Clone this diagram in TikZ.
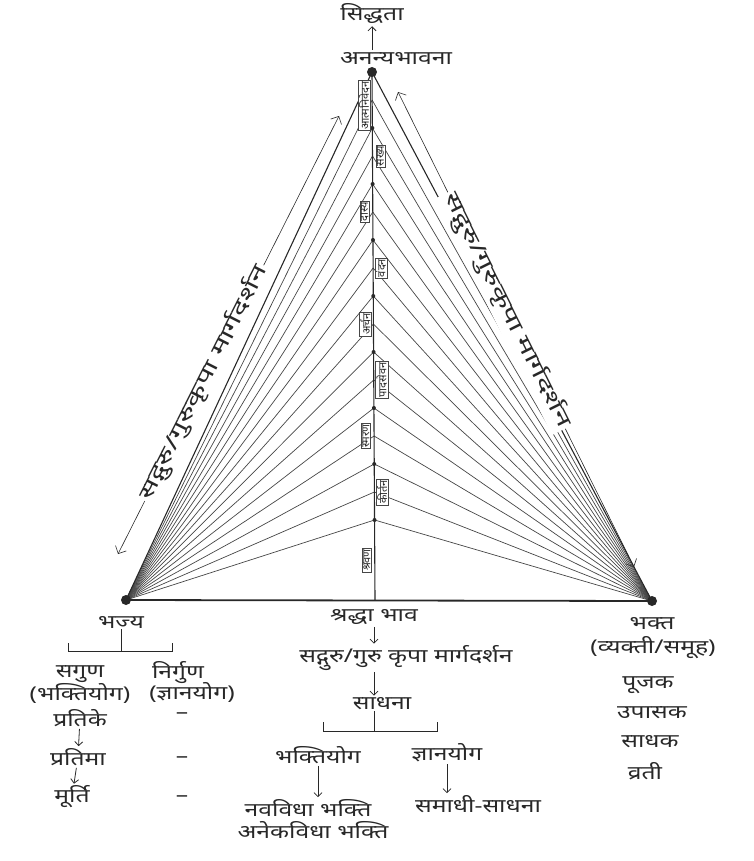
\documentclass[tikz,border=0pt]{standalone}
\usepackage{fontspec}
\newfontfamily\deva[Script=Devanagari]{Noto Sans}
\newfontfamily\devawide[Script=Devanagari, FakeStretch=1.3]{Noto Sans}
\newfontfamily\devaguide[Script=Devanagari, FakeStretch=1.55]{Noto Sans}
\usepackage{tikz}
\usetikzlibrary{arrows.meta, positioning, calc}
\definecolor{inkgray}{RGB}{40,40,40}
\definecolor{fangray}{RGB}{70,70,70}
\tikzset{
  mtext/.style={font=\devawide\fontsize{19}{21}\selectfont, text=inkgray, inner sep=1pt},
  stagetext/.style={font=\deva\fontsize{11}{12}\selectfont, text=inkgray, rotate=90,
    fill=white, draw=fangray, line width=0.4pt, inner sep=1pt},
  guidetext/.style={font=\devaguide\fontsize{20}{22}\selectfont, text=inkgray, sloped,
    fill=white, inner sep=2pt},
  fanline/.style={fangray, line width=0.7pt},
  sideline/.style={inkgray, line width=1.1pt},
  baseedge/.style={inkgray, line width=1.8pt},
  guidearrow/.style={{Straight Barb[length=6pt]}-{Straight Barb[length=6pt]}, inkgray, line width=0.6pt},
  downarrow/.style={-{Straight Barb[length=4pt]}, inkgray, line width=0.8pt, shorten >=1pt, shorten <=1pt},
  bracketline/.style={inkgray, line width=0.8pt},
  vertexdot/.style={circle, fill=inkgray, inner sep=0pt, minimum size=10pt},
  joindot/.style={circle, fill=inkgray, inner sep=0pt, minimum size=4pt},
}

\begin{document}
\begin{tikzpicture}[x=1pt, y=-1pt]
  \useasboundingbox (0,0) rectangle (754,861);

  % triangle corners
  \coordinate (apex) at (372,72);
  \coordinate (lv) at (126,600);
  \coordinate (rv) at (652,601);
  \coordinate (bm) at (375,600);

  % points on the middle line
  \foreach \k in {0,...,16}
    \coordinate (c\k) at ($(apex)!{\k*28/528}!(bm)$);

  % fans
  \foreach \k in {1,...,16} {
    \draw[fanline] (lv) -- (c\k);
    \draw[fanline] (rv) -- (c\k);
  }
  \draw[sideline] (lv) -- (apex) -- (rv);
  \draw[baseedge] (lv) -- (rv);
  \draw[sideline] (apex) -- (bm);
  \foreach \k in {2,4,...,16}
    \node[joindot] at (c\k) {};

  % stages along the middle line
  \node[stagetext] (st1) at ($(c0)!0.6!(c2)+(-8,0)$) {आत्मनिवेदन};
  \node[stagetext] (st2) at ($(c2)!0.5!(c4)+(8,0)$) {सख्य};
  \node[stagetext] (st3) at ($(c4)!0.5!(c6)+(-8,0)$) {दास्य};
  \node[stagetext] (st4) at ($(c6)!0.5!(c8)+(8,0)$) {वंदन};
  \node[stagetext] (st5) at ($(c8)!0.5!(c10)+(-8,0)$) {अर्चन};
  \node[stagetext] (st6) at ($(c10)!0.5!(c12)+(8,0)$) {पादसेवन};
  \node[stagetext] (st7) at ($(c12)!0.5!(c14)+(-8,0)$) {स्मरण};
  \node[stagetext] (st8) at ($(c14)!0.5!(c16)+(8,0)$) {कीर्तन};
  \node[stagetext] (st9) at ($(c16)!0.5!(bm)+(-8,0)$) {श्रवण};

  \node[vertexdot] (apexdot) at (apex) {};
  \node[vertexdot] (lvdot) at (lv) {};
  \node[vertexdot] (rvdot) at (rv) {};

  % guidance arrows
  \coordinate (la1) at (118,554);
  \coordinate (la2) at (339,116);
  \draw[guidearrow] (la1) -- node[guidetext, pos=0.39] {सद्गुरु/गुरुकृपा मार्गदर्शन} (la2);
  \coordinate (ra1) at (398,92);
  \coordinate (ra2) at (634,567);
  \draw[guidearrow] (ra1) -- node[guidetext, pos=0.46] {सद्गुरु/गुरुकृपा मार्गदर्शन} (ra2);

  % top
  \node[mtext] (ananya) at (396,58) {अनन्यभावना};
  \node[mtext] (siddhata) at (372,14) {सिद्धता};
  \draw[downarrow] (ananya.north -| apex) -- (siddhata.south -| apex);

  % left: bhajya
  \node[mtext] (bhajya) at (121,622) {भज्य};
  \coordinate (bjL) at (68,651);
  \coordinate (bjR) at (172,651);
  \draw[bracketline] (bhajya.south) -- (bhajya.south |- bjL);
  \draw[bracketline] ([yshift=8]bjL) -- (bjL) -- (bjR) -- ([yshift=8]bjR);
  \node[mtext] (sagun) at (80,674) {सगुण};
  \node[mtext] (sagunyog) at (80,693) {(भक्तियोग)};
  \node[mtext] (nirgun) at (178,673) {निर्गुण};
  \node[mtext] (nirgunyog) at (192,692) {(ज्ञानयोग)};
  \node[mtext] (pratike) at (80,718) {प्रतिके};
  \node[mtext] (pratima) at (78,757) {प्रतिमा};
  \node[mtext] (murti) at (72,797) {मूर्ति};
  \draw[downarrow] (pratike) -- (pratima);
  \draw[downarrow] (pratima) -- (murti);
  \node[mtext] (dash1) at (182,716) {–};
  \node[mtext] (dash2) at (182,760) {–};
  \node[mtext] (dash3) at (182,799) {–};

  % centre: path of sadhana
  \node[mtext] (shraddha) at (374,617) {श्रद्धा भाव};
  \node[mtext] (guru) at (406,658) {सद्गुरु/गुरु कृपा मार्गदर्शन};
  \node[mtext] (sadhana) at (382,704) {साधना};
  \draw[downarrow] (shraddha) -- (shraddha |- guru.north);
  \draw[downarrow] (shraddha |- guru.south) -- (shraddha |- sadhana.north);
  \coordinate (sdL) at (323,731);
  \coordinate (sdR) at (437,731);
  \draw[bracketline] (sadhana.south -| shraddha) -- (shraddha |- sdL);
  \draw[bracketline] ([yshift=9]sdL) -- (sdL) -- (sdR) -- ([yshift=9]sdR);
  \node[mtext] (bhaktiyog) at (318,755) {भक्तियोग};
  \node[mtext] (dnyanyog) at (447,753) {ज्ञानयोग};
  \node[mtext] (navavidha) at (308,808) {नवविधा भक्ति};
  \node[mtext] (anekvidha) at (313,830) {अनेकविधा भक्ति};
  \node[mtext] (samadhi) at (478,804) {समाधी-साधना};
  \draw[downarrow] (bhaktiyog) -- (bhaktiyog |- navavidha.north);
  \draw[downarrow] (dnyanyog) -- (dnyanyog |- samadhi.north);

  % right: bhakta
  \node[mtext] (bhakta) at (652,624) {भक्त};
  \node[mtext] (vyakti) at (653,648) {(व्यक्ती/समूह)};
  \node[mtext] (pujak) at (648,685) {पूजक};
  \node[mtext] (upasak) at (652,713) {उपासक};
  \node[mtext] (sadhak) at (650,742) {साधक};
  \node[mtext] (vrati) at (645,771) {व्रती};
\end{tikzpicture}
\end{document}
